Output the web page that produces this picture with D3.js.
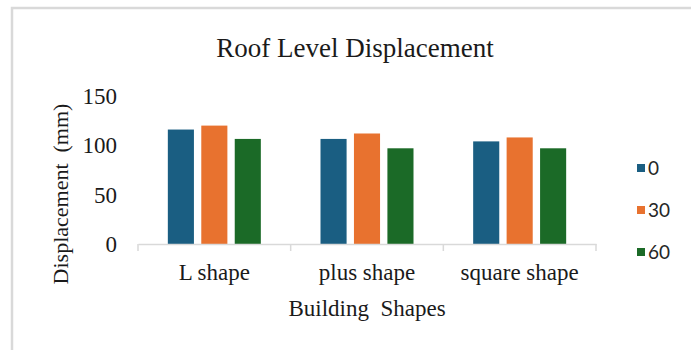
<!DOCTYPE html>
<html>
<head>
<meta charset="utf-8">
<script src="https://cdn.jsdelivr.net/npm/d3@7"></script>
<style>
  body { margin: 0; background: #fff; }
  text { font-family: "Liberation Serif", "Times New Roman", serif; fill: #1a1a1a; }
  .legend text { font-family: Lato, "Open Sans", sans-serif; fill: #262626; }
</style>
</head>
<body>
<div id="chart"></div>
<script>
var categories = ["L shape", "plus shape", "square shape"];
var series = ["0", "30", "60"];
var values0 = [116, 106.5, 104];
var values30 = [120, 112, 108];
var values60 = [106.5, 97, 97];
var yTicks = [0, 50, 100, 150];
var colors = ["#1a5e82", "#e8722f", "#1b6a27"];

var w = 691;
var h = 350;

var svg = d3
  .select("#chart")
  .append("svg")
  .attr("width", w)
  .attr("height", h);

// frame of the cropped figure
svg.append("path")
  .attr("d", "M12,350 L12,8 L691,8")
  .attr("fill", "none")
  .attr("stroke", "#d9d9d9")
  .attr("stroke-width", 2.5);

var x = d3
  .scaleBand()
  .domain(categories)
  .range([138, 596]);

var x1 = d3
  .scaleBand()
  .domain(series)
  .range([0, 93])
  .paddingInner(0.22);

var y = d3
  .scaleLinear()
  .domain([0, 150])
  .range([244, 96]);

var rows = categories.map(function(c, i) {
  return { cat: c, vals: [values0[i], values30[i], values60[i]] };
});

// title
svg.append("text")
  .attr("x", 355)
  .attr("y", 57)
  .attr("text-anchor", "middle")
  .style("font-size", "27px")
  .text("Roof Level Displacement");

// bars
var groups = svg.selectAll(".grp")
  .data(rows)
  .enter()
  .append("g")
  .attr("class", "grp")
  .attr("transform", function(d) {
    return "translate(" + (x(d.cat) + (x.bandwidth() - 93) / 2) + ",0)";
  });

groups.selectAll("rect")
  .data(function(d) {
    return d.vals.map(function(v, i) { return { s: series[i], v: v, i: i }; });
  })
  .enter()
  .append("rect")
  .attr("x", function(d) { return x1(d.s); })
  .attr("y", function(d) { return y(d.v); })
  .attr("width", x1.bandwidth())
  .attr("height", function(d) { return y(0) - y(d.v); })
  .attr("fill", function(d) { return colors[d.i]; });

// x axis
var xAxis = d3.axisBottom(x).tickSize(0).tickPadding(0);
var gx = svg.append("g")
  .attr("class", "x axis")
  .attr("transform", "translate(0,244)")
  .call(xAxis);
gx.select(".domain").attr("stroke", "#d9d9d9").attr("stroke-width", 1.5);
gx.selectAll(".tick text")
  .attr("y", 36)
  .attr("dy", null)
  .style("font-size", "23px")
  .style("font-family", "Liberation Serif")
  .attr("fill", "#1a1a1a");

// category separators
var bounds = [x.range()[0]].concat(categories.map(function(c) { return x(c) + x.bandwidth(); }));
svg.selectAll(".sep")
  .data(bounds)
  .enter()
  .append("line")
  .attr("x1", function(d) { return d; })
  .attr("x2", function(d) { return d; })
  .attr("y1", 244)
  .attr("y2", 251)
  .attr("stroke", "#d9d9d9")
  .attr("stroke-width", 1.5);

// y axis
var yAxis = d3.axisLeft(y).tickValues(yTicks).tickSize(0).tickPadding(0);
var gy = svg.append("g")
  .attr("class", "y axis")
  .attr("transform", "translate(117,0)")
  .call(yAxis);
gy.select(".domain").remove();
gy.selectAll(".tick text")
  .style("font-size", "23px")
  .style("font-family", "Liberation Serif")
  .attr("fill", "#1a1a1a");

// axis titles
svg.append("text")
  .attr("transform", "translate(68,194) rotate(-90)")
  .attr("text-anchor", "middle")
  .style("font-size", "22px")
  .style("white-space", "pre")
  .text("Displacement  (mm)");

svg.append("text")
  .attr("x", 367)
  .attr("y", 316)
  .attr("text-anchor", "middle")
  .style("font-size", "23px")
  .style("white-space", "pre")
  .text("Building  Shapes");

// legend
var legend = svg.append("g").attr("class", "legend");
var items = legend.selectAll("g")
  .data(series)
  .enter()
  .append("g")
  .attr("transform", function(d, i) { return "translate(637," + (168 + i * 42) + ")"; });
items.append("rect")
  .attr("x", 0)
  .attr("y", -4)
  .attr("width", 8)
  .attr("height", 8)
  .attr("fill", function(d, i) { return colors[i]; });
items.append("text")
  .attr("x", 11)
  .attr("y", 7)
  .style("font-size", "19px")
  .text(function(d) { return d; });
</script>
</body>
</html>
